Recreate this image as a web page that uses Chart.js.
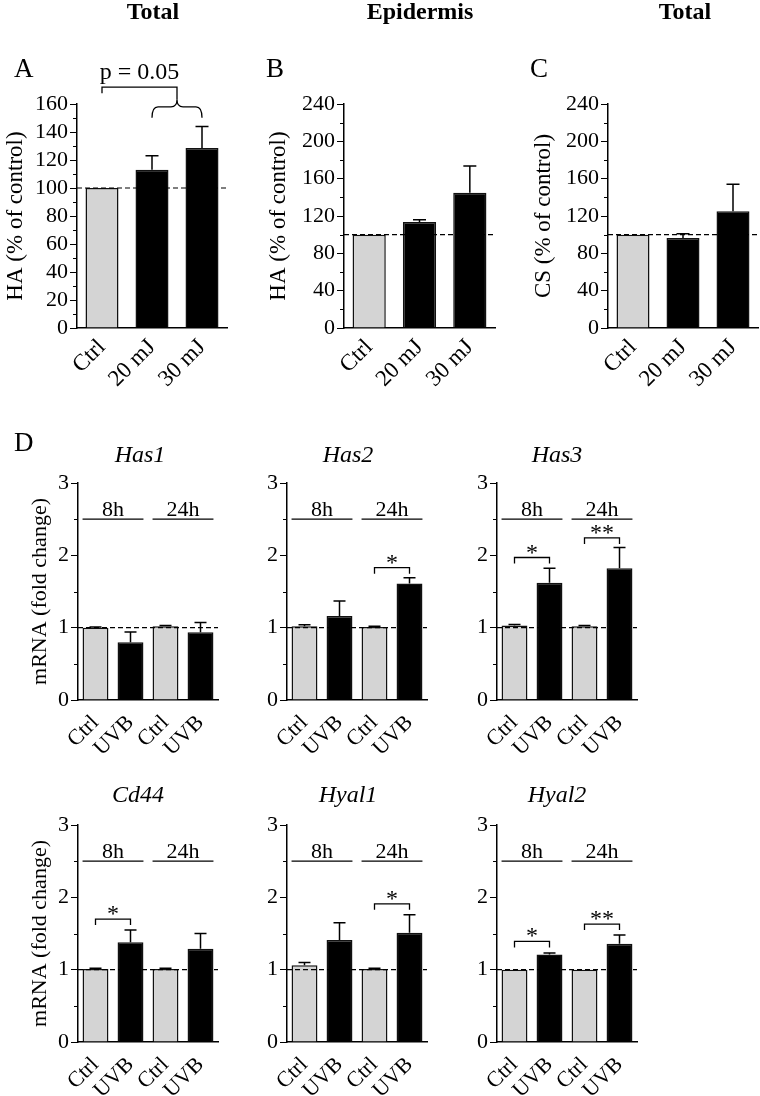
<!DOCTYPE html>
<html>
<head>
<meta charset="utf-8">
<script src="https://cdn.jsdelivr.net/npm/chart.js@4.4.1/dist/chart.umd.min.js"></script>
<style>
  body { margin: 0; background: #fff; }
  #fig { position: relative; width: 760px; height: 1096px; font-family: "Liberation Serif", "Times New Roman", serif; color: #000; }
  #fig canvas { position: absolute; }
  .lbl { position: absolute; white-space: nowrap; line-height: 1; }
  .head { font-weight: bold; font-size: 24px; transform: translateX(-50%); }
  .letter { font-size: 27px; }
  .gene { font-style: italic; font-size: 24px; transform: translateX(-50%); }
</style>
</head>
<body>
<div id="fig">
  <canvas id="cA" width="250" height="420" style="left:0;top:0"></canvas>
  <canvas id="cB" width="250" height="420" style="left:250px;top:0"></canvas>
  <canvas id="cC" width="260" height="420" style="left:500px;top:0"></canvas>
  <canvas id="cHas1" width="250" height="340" style="left:0;top:420px"></canvas>
  <canvas id="cHas2" width="210" height="340" style="left:250px;top:420px"></canvas>
  <canvas id="cHas3" width="300" height="340" style="left:460px;top:420px"></canvas>
  <canvas id="cCd44" width="250" height="336" style="left:0;top:760px"></canvas>
  <canvas id="cHyal1" width="210" height="336" style="left:250px;top:760px"></canvas>
  <canvas id="cHyal2" width="300" height="336" style="left:460px;top:760px"></canvas>

  <div class="lbl head" style="left:153px;top:-1px">Total</div>
  <div class="lbl head" style="left:420px;top:-1px">Epidermis</div>
  <div class="lbl head" style="left:685px;top:-1px">Total</div>
  <div class="lbl letter" style="left:14px;top:55px">A</div>
  <div class="lbl letter" style="left:266px;top:55px">B</div>
  <div class="lbl letter" style="left:530px;top:55px">C</div>
  <div class="lbl letter" style="left:14px;top:429px">D</div>
  <div class="lbl gene" style="left:140px;top:442px">Has1</div>
  <div class="lbl gene" style="left:348px;top:442px">Has2</div>
  <div class="lbl gene" style="left:557px;top:442px">Has3</div>
  <div class="lbl gene" style="left:138px;top:782px">Cd44</div>
  <div class="lbl gene" style="left:348px;top:782px">Hyal1</div>
  <div class="lbl gene" style="left:557px;top:782px">Hyal2</div>
</div>

<script>
// top row: % of control, mean and SEM
const doseLabels = ['Ctrl', '20 mJ', '30 mJ'];
const haTotal = [100, 113, 128.5];
const haTotalSem = [0, 10, 15.5];
const haEpidermis = [100, 113.5, 145];
const haEpidermisSem = [0, 2.5, 28.5];
const csTotal = [100, 96.5, 125];
const csTotalSem = [0, 4.5, 29];

// panel D: mRNA fold change, bars are 8h Ctrl, 8h UVB, 24h Ctrl, 24h UVB
const uvbLabels = ['Ctrl', 'UVB', 'Ctrl', 'UVB'];
const timeGroups = ['8h', '24h'];
const has1 = [1.00, 0.80, 1.02, 0.935];
const has1Sem = [0.01, 0.14, 0.01, 0.135];
const has2 = [1.02, 1.16, 1.01, 1.61];
const has2Sem = [0.02, 0.21, 0.01, 0.08];
const has3 = [1.03, 1.62, 1.02, 1.82];
const has3Sem = [0.015, 0.20, 0.01, 0.29];
const cd44 = [1.01, 1.38, 1.01, 1.29];
const cd44Sem = [0.01, 0.17, 0.01, 0.21];
const hyal1 = [1.06, 1.41, 1.01, 1.51];
const hyal1Sem = [0.04, 0.24, 0.01, 0.25];
const hyal2 = [1.00, 1.21, 1.00, 1.36];
const hyal2Sem = [0, 0.02, 0, 0.12];

const GRAY = '#d4d4d4';
const SERIF = '"Liberation Serif", "Times New Roman", serif';
Chart.defaults.font.family = SERIF;
Chart.defaults.color = '#000';

// error bars, dashed control line, minor ticks, time groups and significance brackets
function makeExtras(o) {
  return {
    id: 'extras',
    afterDatasetsDraw(chart) {
      const { ctx, chartArea: area, scales: { y } } = chart;
      const bars = chart.getDatasetMeta(0).data;
      const vals = chart.data.datasets[0].data;
      ctx.save();
      ctx.strokeStyle = '#000';
      ctx.fillStyle = '#000';

      // short unlabelled ticks
      ctx.lineWidth = 1;
      y.ticks.forEach(t => {
        if (t.label !== '') return;
        const py = Math.round(y.getPixelForValue(t.value)) + 0.5;
        ctx.beginPath();
        ctx.moveTo(area.left - 4, py);
        ctx.lineTo(area.left, py);
        ctx.stroke();
      });

      const yRef = y.getPixelForValue(o.ref);
      ctx.lineWidth = 1.2;
      ctx.setLineDash([5, 3]);
      ctx.beginPath();
      ctx.moveTo(area.left, yRef);
      ctx.lineTo(area.right, yRef);
      ctx.stroke();
      ctx.setLineDash([]);

      ctx.lineWidth = 1.5;
      o.sem.forEach((s, i) => {
        if (!s) return;
        const x = bars[i].x;
        const y0 = y.getPixelForValue(vals[i]);
        const y1 = y.getPixelForValue(vals[i] + s);
        ctx.beginPath();
        ctx.moveTo(x, y0);
        ctx.lineTo(x, y1);
        ctx.moveTo(x - o.cap, y1);
        ctx.lineTo(x + o.cap, y1);
        ctx.stroke();
      });

      ctx.lineWidth = 1.3;
      ctx.textAlign = 'center';
      ctx.textBaseline = 'alphabetic';
      ctx.font = '22px ' + SERIF;

      if (o.groups) {
        const yy = y.getPixelForValue(o.groupAt);
        o.groups.forEach((name, g) => {
          const a = bars[g * 2], b = bars[g * 2 + 1];
          const x1 = a.x - a.width / 2, x2 = b.x + b.width / 2;
          ctx.beginPath();
          ctx.moveTo(x1, yy);
          ctx.lineTo(x2, yy);
          ctx.stroke();
          ctx.fillText(name, (x1 + x2) / 2, yy - 3);
        });
      }

      (o.brackets || []).forEach(br => {
        const x1 = bars[br.from].x, x2 = bars[br.to].x;
        const yy = y.getPixelForValue(br.at);
        ctx.beginPath();
        ctx.moveTo(x1, yy + 6);
        ctx.lineTo(x1, yy);
        ctx.lineTo(x2, yy);
        ctx.lineTo(x2, yy + 6);
        ctx.stroke();
        ctx.font = '24px ' + SERIF;
        ctx.fillText(br.mark, (x1 + x2) / 2, yy + 2);
      });

      if (o.pair) {
        const p = o.pair;
        const xl = bars[p.from].x;
        const b1 = bars[p.to[0]].x, b2 = bars[p.to[1]].x;
        const xm = (b1 + b2) / 2;
        const yb = y.getPixelForValue(p.at);
        const yc = y.getPixelForValue(p.braceAt);
        ctx.beginPath();
        ctx.moveTo(xl, yb + 6);
        ctx.lineTo(xl, yb);
        ctx.lineTo(xm, yb);
        ctx.lineTo(xm, yc - 7);
        ctx.stroke();
        ctx.beginPath();
        ctx.moveTo(b1, yc + 11);
        ctx.quadraticCurveTo(b1, yc, b1 + 6, yc);
        ctx.lineTo(xm - 6, yc);
        ctx.quadraticCurveTo(xm, yc, xm, yc - 7);
        ctx.quadraticCurveTo(xm, yc, xm + 6, yc);
        ctx.lineTo(b2 - 6, yc);
        ctx.quadraticCurveTo(b2, yc, b2, yc + 11);
        ctx.stroke();
        ctx.font = '24px ' + SERIF;
        ctx.fillText(p.text, (xl + xm) / 2, yb - 8);
      }
      ctx.restore();
    }
  };
}

function panel(id, o) {
  return new Chart(document.getElementById(id), {
    type: 'bar',
    data: {
      labels: o.labels,
      datasets: [{
        data: o.values,
        backgroundColor: o.labels.map(l => l === 'Ctrl' ? GRAY : '#000'),
        borderColor: '#111',
        borderWidth: 1.5,
        barPercentage: o.barPct,
        categoryPercentage: 1
      }]
    },
    options: {
      responsive: false,
      animation: false,
      devicePixelRatio: 1,
      layout: { padding: { left: o.padL, right: o.padR, top: o.padT, bottom: 0 } },
      plugins: { legend: { display: false }, tooltip: { enabled: false } },
      scales: {
        x: {
          grid: { display: false, drawTicks: false },
          border: { color: '#000', width: 1.5 },
          ticks: { color: '#000', font: { size: o.xFont }, minRotation: 45, maxRotation: 45, autoSkip: false, padding: o.xPad },
          afterFit: s => { s.height = o.xH; }
        },
        y: {
          min: 0,
          max: o.max,
          grid: {
            drawOnChartArea: false,
            tickLength: 7,
            color: '#000',
            // minor ticks are drawn shorter by the extras plugin
            tickColor: c => (c.tick && c.tick.label === '' ? 'rgba(0,0,0,0)' : '#000')
          },
          border: { color: '#000', width: 1.5 },
          ticks: {
            stepSize: o.step,
            autoSkip: false,
            color: '#000',
            font: { size: o.yFont },
            padding: 2,
            callback: v => (Math.abs(v / o.every - Math.round(v / o.every)) < 1e-6 ? v : '')
          },
          title: { display: !!o.yTitle, text: o.yTitle || '', color: '#000', font: { size: o.titleFont }, padding: { top: 2, bottom: 0 } },
          afterFit: s => { s.width = o.yW; }
        }
      }
    },
    plugins: [makeExtras(o)]
  });
}

const topRow = { labels: doseLabels, barPct: 0.66, padT: 104, xH: 92, xFont: 23, xPad: 6, yFont: 22, titleFont: 23, ref: 100, cap: 6.5 };
panel('cA', Object.assign({}, topRow, {
  values: haTotal, sem: haTotalSem, max: 160, step: 10, every: 20,
  yTitle: 'HA (% of control)', padL: 0, padR: 23, yW: 77,
  pair: { from: 0, to: [1, 2], at: 172, braceAt: 158, text: 'p = 0.05' }
}));
panel('cB', Object.assign({}, topRow, {
  values: haEpidermis, sem: haEpidermisSem, max: 240, step: 20, every: 40,
  yTitle: 'HA (% of control)', padL: 13, padR: 5, yW: 81
}));
panel('cC', Object.assign({}, topRow, {
  values: csTotal, sem: csTotalSem, max: 240, step: 20, every: 40,
  yTitle: 'CS (% of control)', padL: 28, padR: 2, yW: 80
}));

const geneRow1 = { labels: uvbLabels, groups: timeGroups, groupAt: 2.5, barPct: 0.74, padT: 63, xH: 60, xFont: 22, xPad: 10, yFont: 22, titleFont: 22, ref: 1, cap: 6, max: 3, step: 0.5, every: 1 };
const geneRow2 = Object.assign({}, geneRow1, { padT: 65, xH: 54 });
const firstCol = { yTitle: 'mRNA (fold change)', padL: 25, padR: 32, yW: 53 };
const midCol = { padL: 0, padR: 33, yW: 37 };
const lastCol = { padL: 0, padR: 123, yW: 37 };

panel('cHas1', Object.assign({}, geneRow1, firstCol, { values: has1, sem: has1Sem }));
panel('cHas2', Object.assign({}, geneRow1, midCol, {
  values: has2, sem: has2Sem, brackets: [{ from: 2, to: 3, at: 1.83, mark: '*' }]
}));
panel('cHas3', Object.assign({}, geneRow1, lastCol, {
  values: has3, sem: has3Sem,
  brackets: [{ from: 0, to: 1, at: 1.97, mark: '*' }, { from: 2, to: 3, at: 2.24, mark: '**' }]
}));
panel('cCd44', Object.assign({}, geneRow2, firstCol, {
  values: cd44, sem: cd44Sem, brackets: [{ from: 0, to: 1, at: 1.70, mark: '*' }]
}));
panel('cHyal1', Object.assign({}, geneRow2, midCol, {
  values: hyal1, sem: hyal1Sem, brackets: [{ from: 2, to: 3, at: 1.91, mark: '*' }]
}));
panel('cHyal2', Object.assign({}, geneRow2, lastCol, {
  values: hyal2, sem: hyal2Sem,
  brackets: [{ from: 0, to: 1, at: 1.39, mark: '*' }, { from: 2, to: 3, at: 1.63, mark: '**' }]
}));
</script>
</body>
</html>
